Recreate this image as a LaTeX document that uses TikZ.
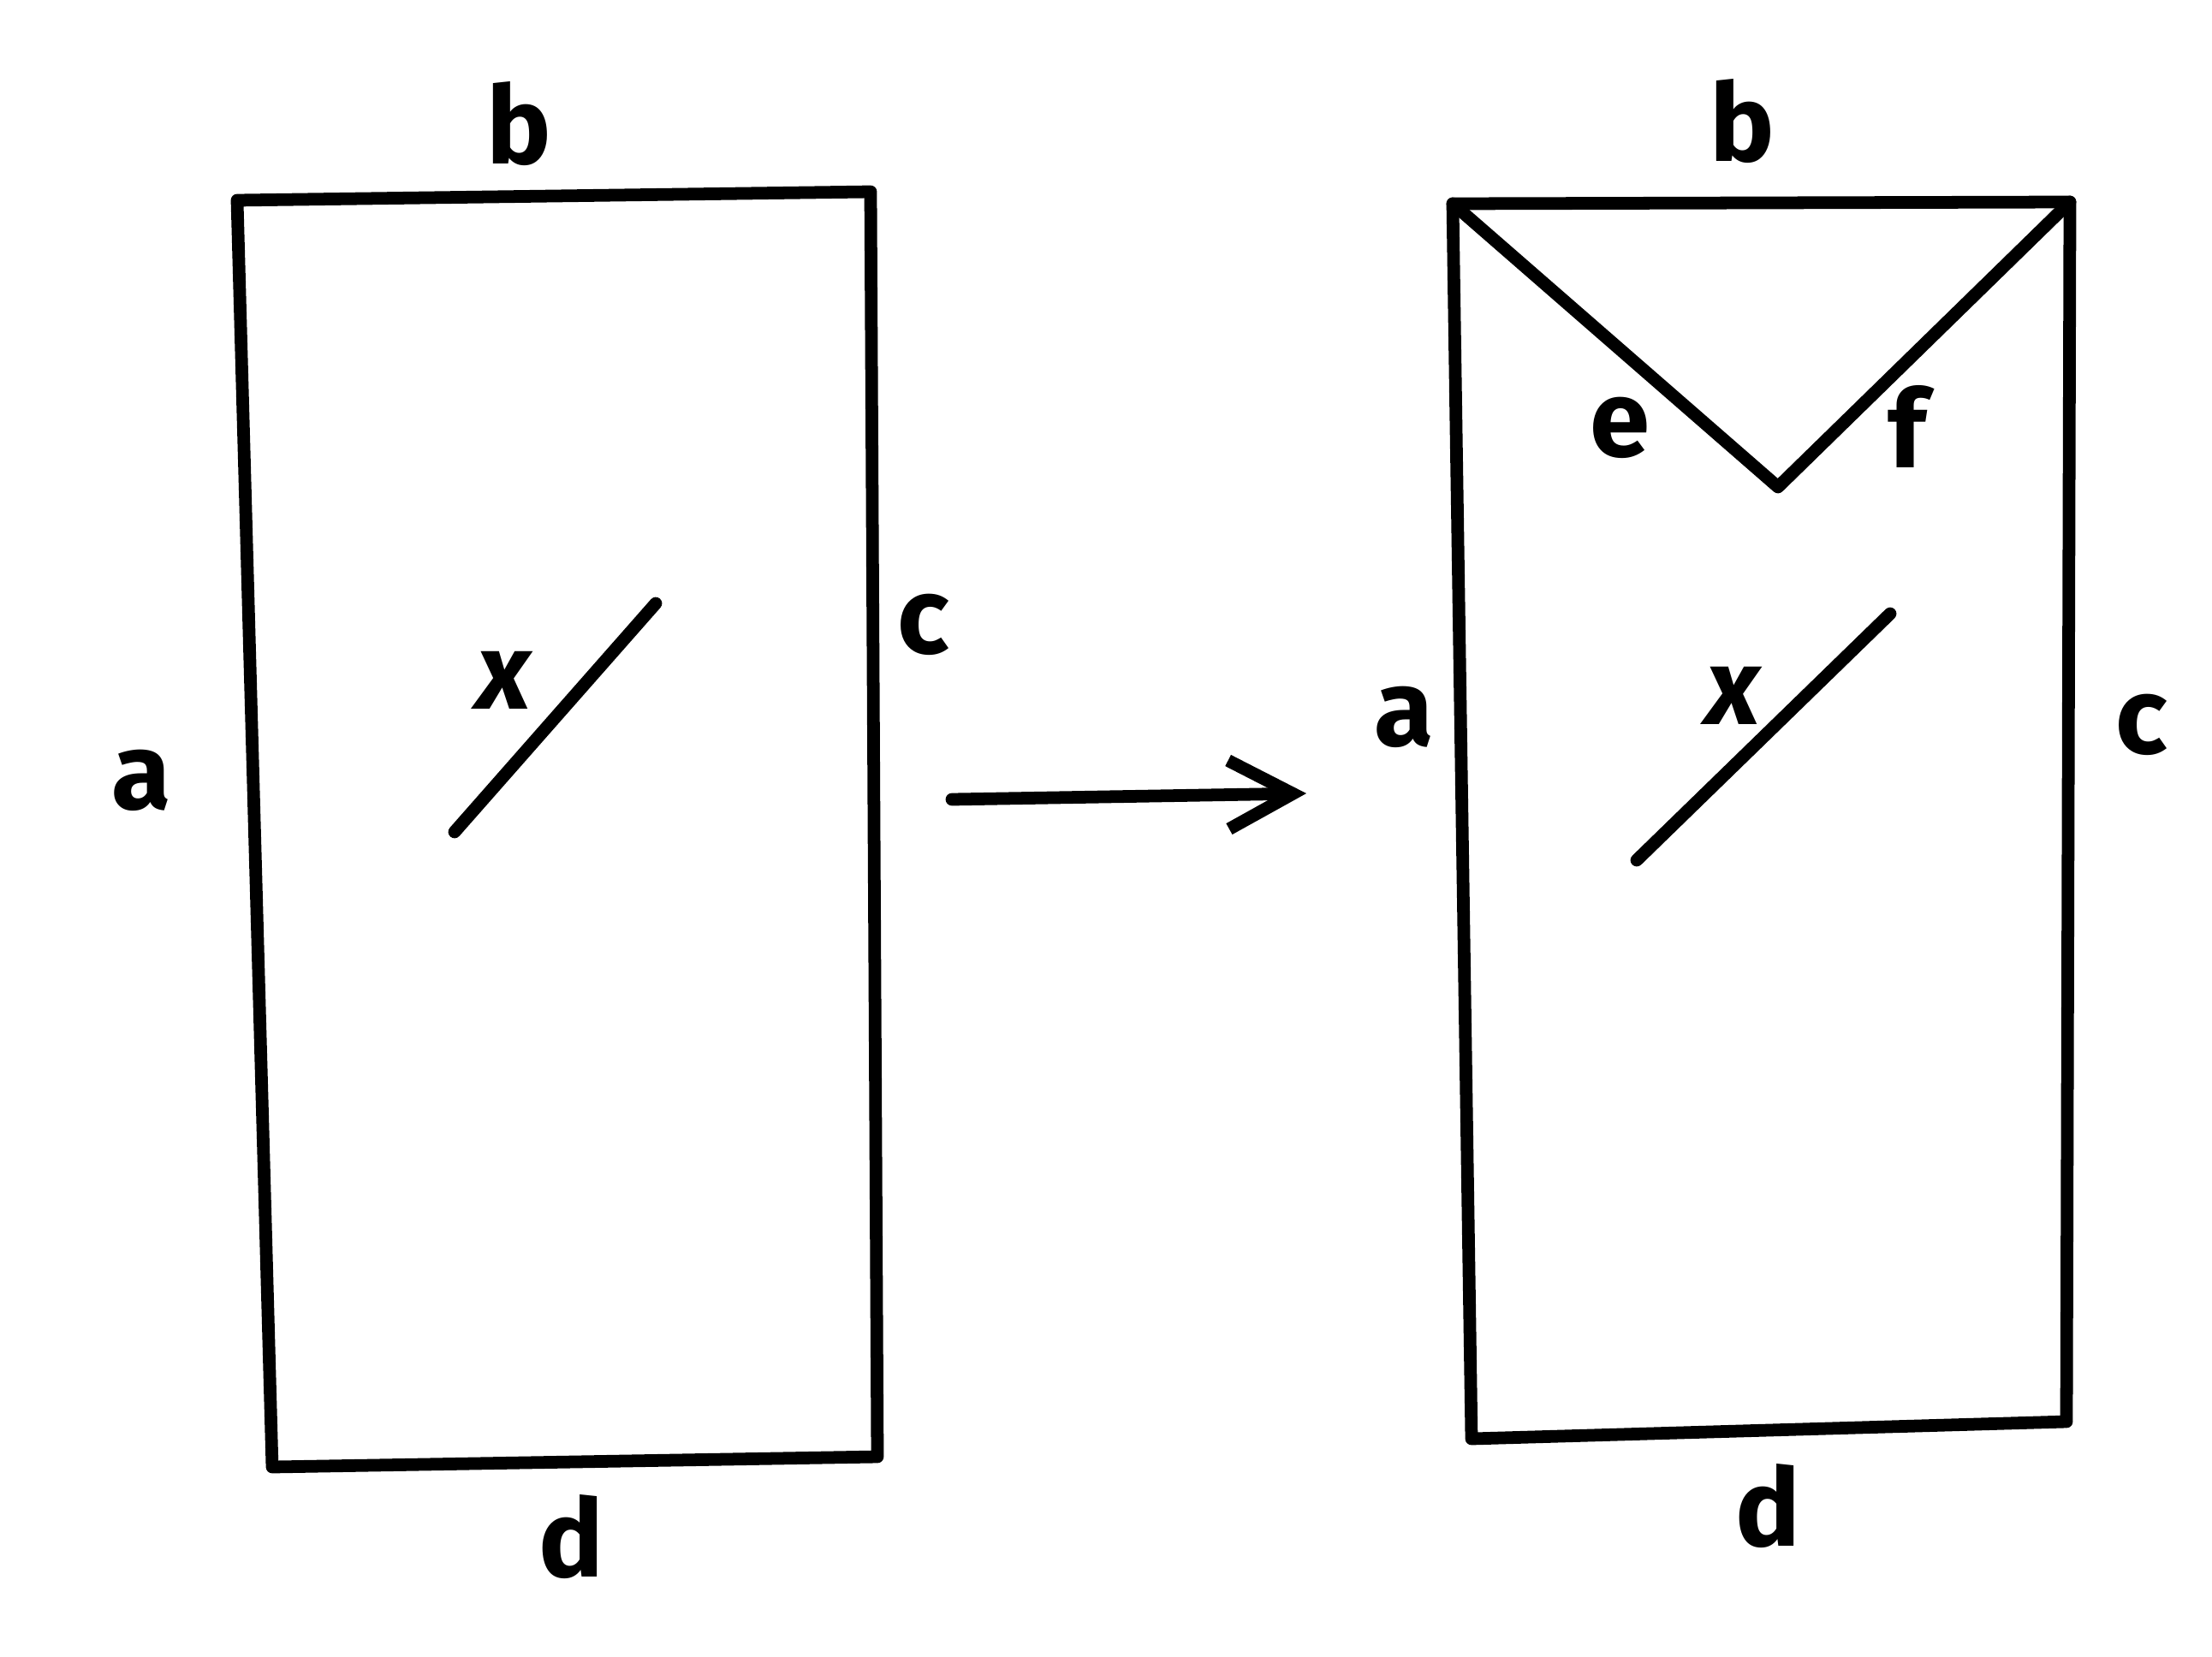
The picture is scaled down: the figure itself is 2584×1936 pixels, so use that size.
\documentclass[tikz,border=0pt]{standalone}
\usepackage{fontspec}
\setmainfont{Fira Sans}
\usetikzlibrary{arrows.meta}
\begin{document}
\begin{tikzpicture}[x=0.01cm,y=-0.01cm,
  edge/.style={line width=4.2pt,line cap=round,line join=round,black},
  lbl/.style={font=\fontsize{36}{42}\selectfont\bfseries,inner sep=0pt,text=black}]
\useasboundingbox[fill=white] (0,0) rectangle (2584,1936);
% left rectangle
\coordinate (L1) at (277,234);
\coordinate (L2) at (1017,224);
\coordinate (L3) at (1025,1702);
\coordinate (L4) at (318,1714);
\draw[edge] (L1) -- (L2) -- (L3) -- (L4) -- cycle;
\coordinate (Ls1) at (531,972);
\coordinate (Ls2) at (766,705);
\draw[edge] (Ls1) -- (Ls2);
\node[lbl] (lb) at (606,145) {b};
\node[lbl] (la) at (165,912) {a};
\node[lbl] (lc) at (1079,730) {c};
\node[lbl] (ld) at (667,1796) {d};
\node[lbl,font=\fontsize{36}{42}\selectfont\itshape\bfseries] (lx) at (588,795) {x};
% arrow
\coordinate (A1) at (1112,934);
\coordinate (A2) at (1526,927);
\draw[edge,-{Straight Barb[length=7.5mm,width=8mm,line width=4.2pt]}] (A1) -- (A2);
% right rectangle
\coordinate (R1) at (1697,238);
\coordinate (R2) at (2418,236);
\coordinate (R3) at (2414,1661);
\coordinate (R4) at (1719,1681);
\draw[edge] (R1) -- (R2) -- (R3) -- (R4) -- cycle;
\coordinate (V) at (2077,569);
\draw[edge] (R1) -- (V) -- (R2);
\coordinate (Rs1) at (1912,1005);
\coordinate (Rs2) at (2208,717);
\draw[edge] (Rs1) -- (Rs2);
\node[lbl] (rb) at (2035,142) {b};
\node[lbl] (re) at (1892,500) {e};
\node[lbl] (rf) at (2228,498) {f};
\node[lbl] (ra) at (1640,838) {a};
\node[lbl] (rc) at (2502,847) {c};
\node[lbl] (rd) at (2065,1760) {d};
\node[lbl,font=\fontsize{36}{42}\selectfont\itshape\bfseries] (rx) at (2024,813) {x};
\end{tikzpicture}
\end{document}
